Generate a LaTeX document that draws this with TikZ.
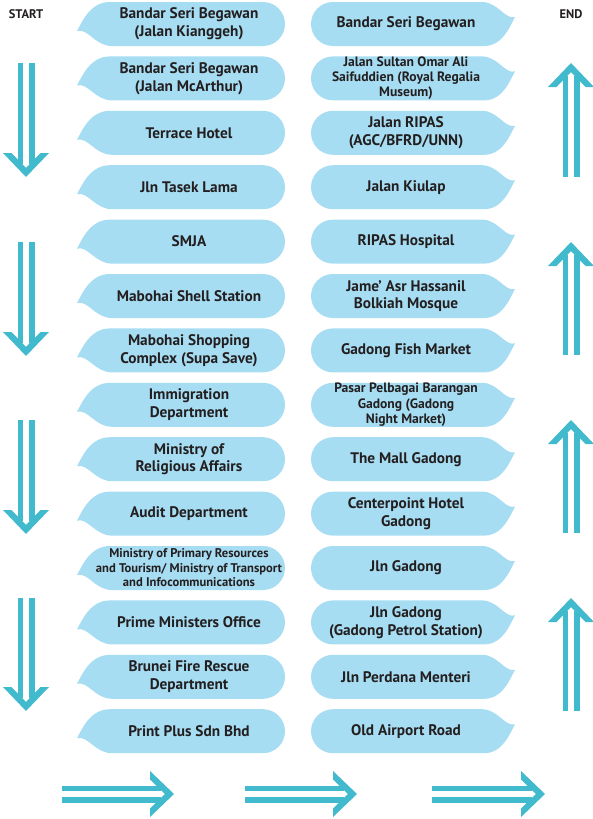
\documentclass[tikz,border=0pt]{standalone}
\usepackage{fontspec}
\setmainfont{PT Sans}
\definecolor{bub}{RGB}{167,221,242}
\definecolor{arr}{RGB}{64,186,204}
\definecolor{txt}{RGB}{35,31,32}
\tikzset{
  lbl/.style={align=center,text=txt,inner sep=0pt,font=\bfseries\fontsize{15.3}{17.8}\selectfont},
  small/.style={font=\bfseries\fontsize{13.6}{15.2}\selectfont},
  tiny/.style={font=\bfseries\fontsize{12.6}{14.6}\selectfont},
  hdr/.style={text=txt,inner sep=0pt,font=\bfseries\fontsize{12.5}{14}\selectfont},
  dblarrow/.pic={
    \fill[arr] (0,-8.5) rectangle (#1-13,-3);
    \fill[arr] (0,3) rectangle (#1-13,8.5);
    \fill[arr] (#1-24,-23) -- (#1,0) -- (#1-24,23) -- (#1-24,14.5) -- (#1-9,0) -- (#1-24,-14.5) -- cycle;
  }
}
\newcommand\lbub[4]{%
  \fill[bub] (110,#2) -- (263,#2) .. controls (275.15,#2) and (285,#2+9.85) .. (285,#2+22)
    .. controls (285,#2+34.15) and (275.15,#2+44) .. (263,#2+44) -- (112,#2+44)
    .. controls (95,#2+44) and (88,#2+26) .. (77,#2+29)
    .. controls (82,#2+20) and (90,#2) .. (110,#2) -- cycle;
  \node[lbl,#3] (#1) at (189,#2+22) {#4};
}
\newcommand\rbub[4]{%
  \fill[bub] (484,#2+44) -- (333,#2+44) .. controls (320.85,#2+44) and (311,#2+34.15) .. (311,#2+22)
    .. controls (311,#2+9.85) and (320.85,#2) .. (333,#2) -- (482,#2)
    .. controls (498,#2) and (505,#2+18) .. (515,#2+15)
    .. controls (510,#2+24) and (503,#2+44) .. (484,#2+44) -- cycle;
  \node[lbl,#3] (#1) at (406,#2+22) {#4};
}
\begin{document}
\begin{tikzpicture}[x=1pt,y=-1pt]
\useasboundingbox (0,0) rectangle (593,819);
\node[hdr] (start) at (26,14) {START};
\node[hdr] (end) at (571,14) {END};
% left column
\lbub{l1}{2}{}{Bandar Seri Begawan\\(Jalan Kianggeh)}
\lbub{l2}{56.4}{}{Bandar Seri Begawan\\(Jalan McArthur)}
\lbub{l3}{110.8}{}{Terrace Hotel}
\lbub{l4}{165.2}{}{Jln Tasek Lama}
\lbub{l5}{219.6}{}{SMJA}
\lbub{l6}{274}{}{Mabohai Shell Station}
\lbub{l7}{328.4}{}{Mabohai Shopping\\Complex (Supa Save)}
\lbub{l8}{382.8}{}{Immigration\\Department}
\lbub{l9}{437.2}{}{Ministry of\\Religious Affairs}
\lbub{l10}{491.6}{}{Audit Department}
\lbub{l11}{546}{tiny}{Ministry of Primary Resources\\and Tourism/ Ministry of Transport\\and Infocommunications}
\lbub{l12}{600.4}{}{Prime Ministers Office}
\lbub{l13}{654.8}{}{Brunei Fire Rescue\\Department}
\lbub{l14}{709.2}{}{Print Plus Sdn Bhd}
% right column
\rbub{r1}{2}{}{Bandar Seri Begawan}
\rbub{r2}{56.4}{small}{Jalan Sultan Omar Ali\\Saifuddien (Royal Regalia\\Museum)}
\rbub{r3}{110.8}{}{Jalan RIPAS\\(AGC/BFRD/UNN)}
\rbub{r4}{165.2}{}{Jalan Kiulap}
\rbub{r5}{219.6}{}{RIPAS Hospital}
\rbub{r6}{274}{}{Jame’ Asr Hassanil\\Bolkiah Mosque}
\rbub{r7}{328.4}{}{Gadong Fish Market}
\rbub{r8}{382.8}{small}{Pasar Pelbagai Barangan\\Gadong (Gadong\\Night Market)}
\rbub{r9}{437.2}{}{The Mall Gadong}
\rbub{r10}{491.6}{}{Centerpoint Hotel\\Gadong}
\rbub{r11}{546}{}{Jln Gadong}
\rbub{r12}{600.4}{}{Jln Gadong\\(Gadong Petrol Station)}
\rbub{r13}{654.8}{}{Jln Perdana Menteri}
\rbub{r14}{709.2}{}{Old Airport Road}
% down arrows
\pic[rotate=-90] at (26,63) {dblarrow=114};
\pic[rotate=-90] at (26,242) {dblarrow=114};
\pic[rotate=-90] at (26,420) {dblarrow=114};
\pic[rotate=-90] at (26,598) {dblarrow=113};
% up arrows
\pic[rotate=90] at (571,177) {dblarrow=114};
\pic[rotate=90] at (571,355) {dblarrow=113};
\pic[rotate=90] at (571,533) {dblarrow=113};
\pic[rotate=90] at (571,711) {dblarrow=113};
% bottom arrows
\pic at (62,794) {dblarrow=112};
\pic at (245,794) {dblarrow=112};
\pic at (432,794) {dblarrow=113};
\end{tikzpicture}
\end{document}
